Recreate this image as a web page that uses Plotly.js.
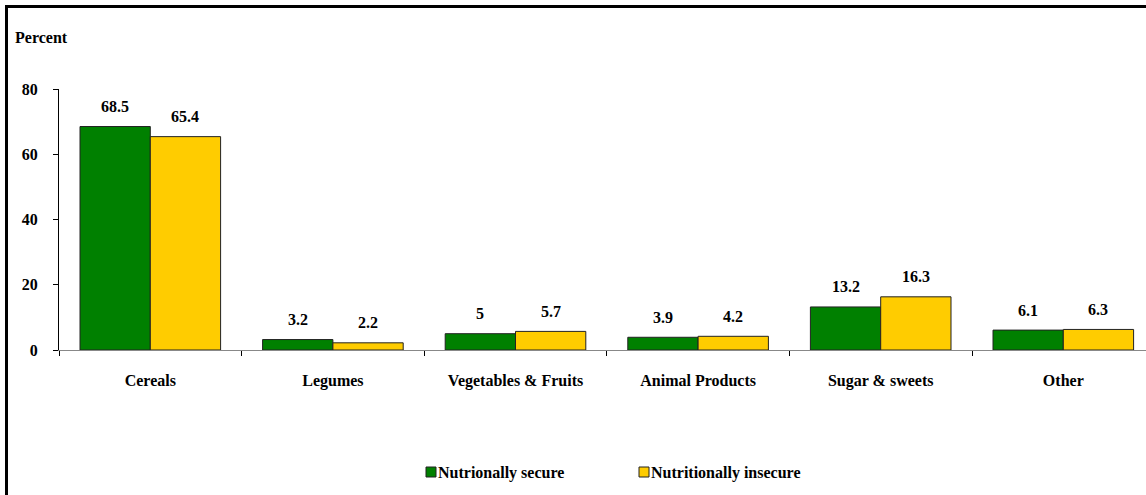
<!DOCTYPE html>
<html>
<head>
<meta charset="utf-8">
<script src="https://cdn.plot.ly/plotly-3.0.1.min.js"></script>
<style>
  html, body { margin: 0; padding: 0; background: #fff; overflow: hidden; }
  #wrap { position: relative; width: 1146px; height: 495px; }
  #chart { width: 1146px; height: 495px; }
  /* outer frame: only its left and top edges fall inside the window */
  #frame {
    position: absolute; left: 5px; top: 5px; right: -20px; bottom: -20px;
    border-left: 3px solid #000; border-top: 3px solid #000;
    pointer-events: none;
  }
</style>
</head>
<body>
<div id="wrap">
  <div id="chart"></div>
  <div id="frame"></div>
</div>
<script>
// Share of food groups by household nutrition status
const categories = ["Cereals", "Legumes", "Vegetables & Fruits", "Animal Products", "Sugar & sweets", "Other"];
const secureValues = [68.5, 3.2, 5, 3.9, 13.2, 6.1];
const insecureValues = [65.4, 2.2, 5.7, 4.2, 16.3, 6.3];
const seriesNames = ["Nutrionally secure", "Nutritionally insecure"];
const yTickVals = [0, 20, 40, 60, 80];

const FONT = "Liberation Serif";
const GREEN = "#008000";
const YELLOW = "#FFCC00";

// fresh font object for every text element
const boldFont = () => ({ family: FONT, size: 16, color: "#000", weight: "bold" });

// plot area in pixels
const W = 1146, H = 495;
const M = { l: 59, r: 0, t: 89, b: 145 };
const plotW = W - M.l - M.r, plotH = H - M.t - M.b;
const catStep = 182.6;                   // pixels per category
const px2x = px => (px - M.l) / plotW;   // page pixel -> paper x
const px2y = py => (H - M.b - py) / plotH; // page pixel -> paper y

const barGap = 0.23;
const halfBar = catStep * (1 - barGap) / 4; // offset of each bar centre from group centre

const traces = [
  {
    type: "bar", name: seriesNames[0], x: categories, y: secureValues,
    marker: { color: GREEN, line: { color: "#222", width: 1 } },
    hoverinfo: "x+y"
  },
  {
    type: "bar", name: seriesNames[1], x: categories, y: insecureValues,
    marker: { color: YELLOW, line: { color: "#222", width: 1 } },
    hoverinfo: "x+y"
  }
];

const annotations = [];
[secureValues, insecureValues].forEach((vals, s) => {
  vals.forEach((v, i) => {
    annotations.push({
      x: categories[i], y: v, xref: "x", yref: "y",
      text: String(v), showarrow: false,
      xshift: s === 0 ? -halfBar : halfBar, yshift: 20,
      xanchor: "center", yanchor: "middle",
      font: boldFont()
    });
  });
});

// axis caption
annotations.push({
  xref: "paper", yref: "paper", x: px2x(13), y: px2y(38),
  xanchor: "left", yanchor: "middle", showarrow: false,
  text: "Percent", font: boldFont()
});

// legend drawn as swatches + text
const legendItems = [
  { name: seriesNames[0], color: GREEN, sx: 426 },
  { name: seriesNames[1], color: YELLOW, sx: 639 }
];
const shapes = [];
legendItems.forEach(it => {
  shapes.push({
    type: "rect", xref: "paper", yref: "paper",
    x0: px2x(it.sx), x1: px2x(it.sx + 10), y0: px2y(477), y1: px2y(467),
    fillcolor: it.color, line: { color: "#222", width: 1 }
  });
  annotations.push({
    xref: "paper", yref: "paper", x: px2x(it.sx + 10), y: px2y(472.5),
    xanchor: "left", yanchor: "middle", showarrow: false,
    text: it.name, font: boldFont()
  });
});

const layout = {
  width: W, height: H,
  margin: M,
  paper_bgcolor: "#fff", plot_bgcolor: "#fff",
  showlegend: false,
  barmode: "group", bargap: barGap, bargroupgap: 0,
  font: boldFont(),
  xaxis: {
    type: "category",
    range: [-0.5, -0.5 + plotW / catStep],
    showline: true, linecolor: "#888", linewidth: 1,
    ticks: "outside", tickson: "boundaries", ticklen: 5, tickcolor: "#000", tickwidth: 1,
    tickfont: boldFont(), ticklabelstandoff: 16,
    showgrid: false, zeroline: false, fixedrange: true
  },
  yaxis: {
    range: [0, 80], tickvals: yTickVals,
    showline: true, linecolor: "#000", linewidth: 1,
    ticks: "outside", ticklen: 5, tickcolor: "#000",
    tickfont: boldFont(), ticklabelstandoff: 12,
    showgrid: false, zeroline: false, fixedrange: true
  },
  annotations: annotations,
  shapes: shapes
};

Plotly.newPlot("chart", traces, layout, { displayModeBar: false });
</script>
</body>
</html>
